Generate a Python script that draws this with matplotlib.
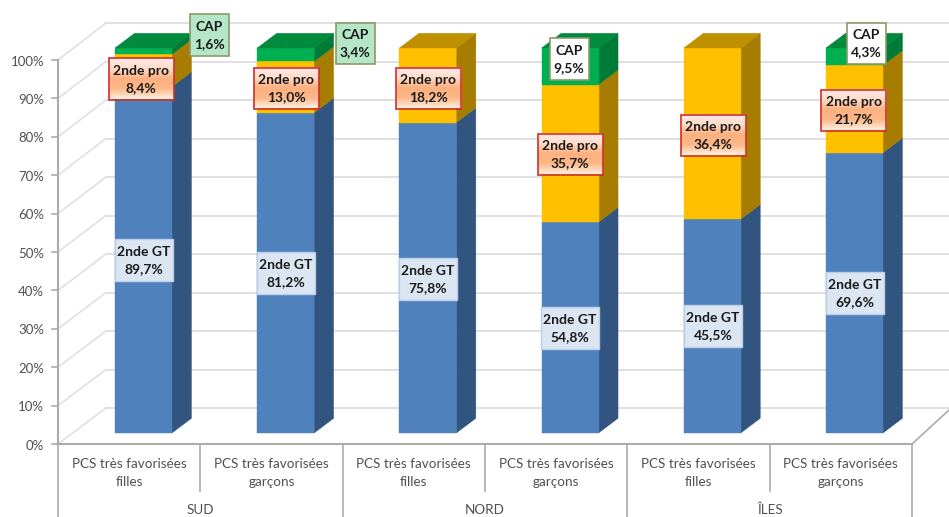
import numpy as np
import matplotlib
matplotlib.use('Agg')
import matplotlib.pyplot as plt
from matplotlib.patches import Polygon, Rectangle
from matplotlib.colors import LinearSegmentedColormap

plt.rcParams['font.family'] = ['Lato', 'DejaVu Sans']

groupes = ['SUD', 'NORD', 'ÎLES']
categories = ['PCS très favorisées\nfilles', 'PCS très favorisées\ngarçons'] * 3
gt = [89.7, 81.2, 75.8, 54.8, 45.5, 69.6]
pro = [8.4, 13.0, 18.2, 35.7, 36.4, 21.7]
cap = [1.6, 3.4, 0.0, 9.5, 0.0, 4.3]
ticks = list(range(0, 101, 10))

# px -> data, bars start at x=143.5 and one category is 142.2 px wide
PX_X = 142.2
PX_Y = 3.85
def X(px):
    return (px - 143.5) / PX_X
def Y(px):
    return (433 - px) / PX_Y

fig = plt.figure(figsize=(9.49, 5.17), dpi=100)
ax = fig.add_axes([0, 0, 1, 1])
ax.axis('off')

W = 0.2
DX = 19.5 / PX_X
DY = 14.7 / PX_Y

# walls
grid = '#e0e0e0'
axe = '#ababab'
for t in ticks:
    yf = Y(444) + t * 3.84 / PX_Y
    yb = Y(408) + t * 3.85 / PX_Y
    ax.plot([X(58), X(106)], [yf, yb], color=grid, lw=1.2, zorder=1)
    ax.plot([X(106), X(949)], [yb, yb], color=grid, lw=1.4, zorder=1)
    ax.plot([X(52), X(58)], [yf, yf], color=axe, lw=1.2, zorder=2)
    ax.text(X(44), yf - 0.4, '%d%%' % t, ha='right', va='center', fontsize=9.5, color='#505050', zorder=2)
ax.plot([X(58), X(58)], [Y(444), Y(60)], color=axe, lw=1.5, zorder=2)
ax.plot([X(58), X(912)], [Y(444), Y(444)], color=axe, lw=1.5, zorder=2)
ax.plot([X(912), X(949)], [Y(444), Y(410)], color=axe, lw=1.2, zorder=2)

# category axis
CELL = 142.33
for k in range(7):
    px = 58 + k * CELL
    bas = 517 if k % 2 == 0 else 491
    ax.plot([X(px), X(px)], [Y(444), Y(bas)], color=axe, lw=1.2, zorder=2)
for i, c in enumerate(categories):
    ax.text(X(58 + (i + 0.5) * CELL), Y(473), c, ha='center', va='center', fontsize=9.7, color='#505050', linespacing=1.62)
for g, nom in enumerate(groupes):
    ax.text(X(58 + (2 * g + 1) * CELL), Y(510), nom, ha='center', va='center', fontsize=9.7, color='#505050')

# bars, 100% stacked
couleurs = [('#4f81bd', '#325580', '#325580'),
            ('#ffc000', '#a67d00', '#bf9000'),
            ('#00b050', '#007a37', '#008a3e')]
for i in range(6):
    total = gt[i] + pro[i] + cap[i]
    base = 0
    parts = [gt[i], pro[i], cap[i]]
    haut = max(k for k in range(3) if parts[k] > 0)
    for k, v in enumerate(parts):
        if v == 0:
            continue
        h = v / total * 100
        front, side, top = couleurs[k]
        ax.add_patch(Polygon([(i + W, base), (i + W + DX, base + DY), (i + W + DX, base + h + DY), (i + W, base + h)],
                             fc=side, ec=side, lw=0.3, zorder=3))
        ax.add_patch(Rectangle((i - W, base), 2 * W, h, fc=front, ec=front, lw=0.3, zorder=3))
        if k == haut:
            ax.add_patch(Polygon([(i - W, base + h), (i + W, base + h), (i + W + DX, base + h + DY), (i - W + DX, base + h + DY)],
                                 fc=top, ec=top, lw=0.3, zorder=3))
        base += h

def fr(v):
    return ('%.1f%%' % v).replace('.', ',')

# label centres in px
gt_pos = [(144, 260), (286, 273), (428, 279), (570, 328), (713, 326), (855, 293)]
pro_pos = [(141, 79), (286, 88), (428, 88), (570, 154), (713, 135), (854, 110)]
cap_pos = [(209, 35), (355, 43), None, (569, 59), None, (866, 43)]

def etiquette(pos, txt, w, h, face, edge, lw=1.0):
    x0, x1 = X(pos[0] - w / 2), X(pos[0] + w / 2)
    y0, y1 = Y(pos[1] + h / 2), Y(pos[1] - h / 2)
    if face == 'degrade':
        cm = LinearSegmentedColormap.from_list('pro', ['#ffe9ea', '#ffdcc8', '#fdb080', '#fdb888', '#ffeede'])
        ax.imshow(np.linspace(0, 1, 64).reshape(-1, 1), cmap=cm, extent=(x0, x1, y0, y1),
                  aspect='auto', origin='upper', zorder=5)
    else:
        ax.add_patch(Rectangle((x0, y0), x1 - x0, y1 - y0, fc=face, ec='none', zorder=5))
    ax.add_patch(Rectangle((x0, y0), x1 - x0, y1 - y0, fc='none', ec=edge, lw=lw, zorder=6))
    ax.text((x0 + x1) / 2, (y0 + y1) / 2 - 0.1, txt, ha='center', va='center', fontsize=10,
            fontweight='bold', color='#1a1a1a', linespacing=1.5, zorder=7)

for i in range(6):
    etiquette(gt_pos[i], '2nde GT\n' + fr(gt[i]), 58, 42, '#dce6f2', '#bccfe6')
    etiquette(pro_pos[i], '2nde pro\n' + fr(pro[i]), 65, 41, 'degrade', '#d0302b', 1.2)
    if cap_pos[i] is not None:
        fond = '#ffffff' if i in (3, 5) else '#b5e6c8'
        etiquette(cap_pos[i], 'CAP\n' + fr(cap[i]), 39, 41, fond, '#8a9a6a', 1.2)

ax.set_xlim(X(0), X(949))
ax.set_ylim(Y(517), Y(0))
fig.savefig('out.png', dpi=100)
